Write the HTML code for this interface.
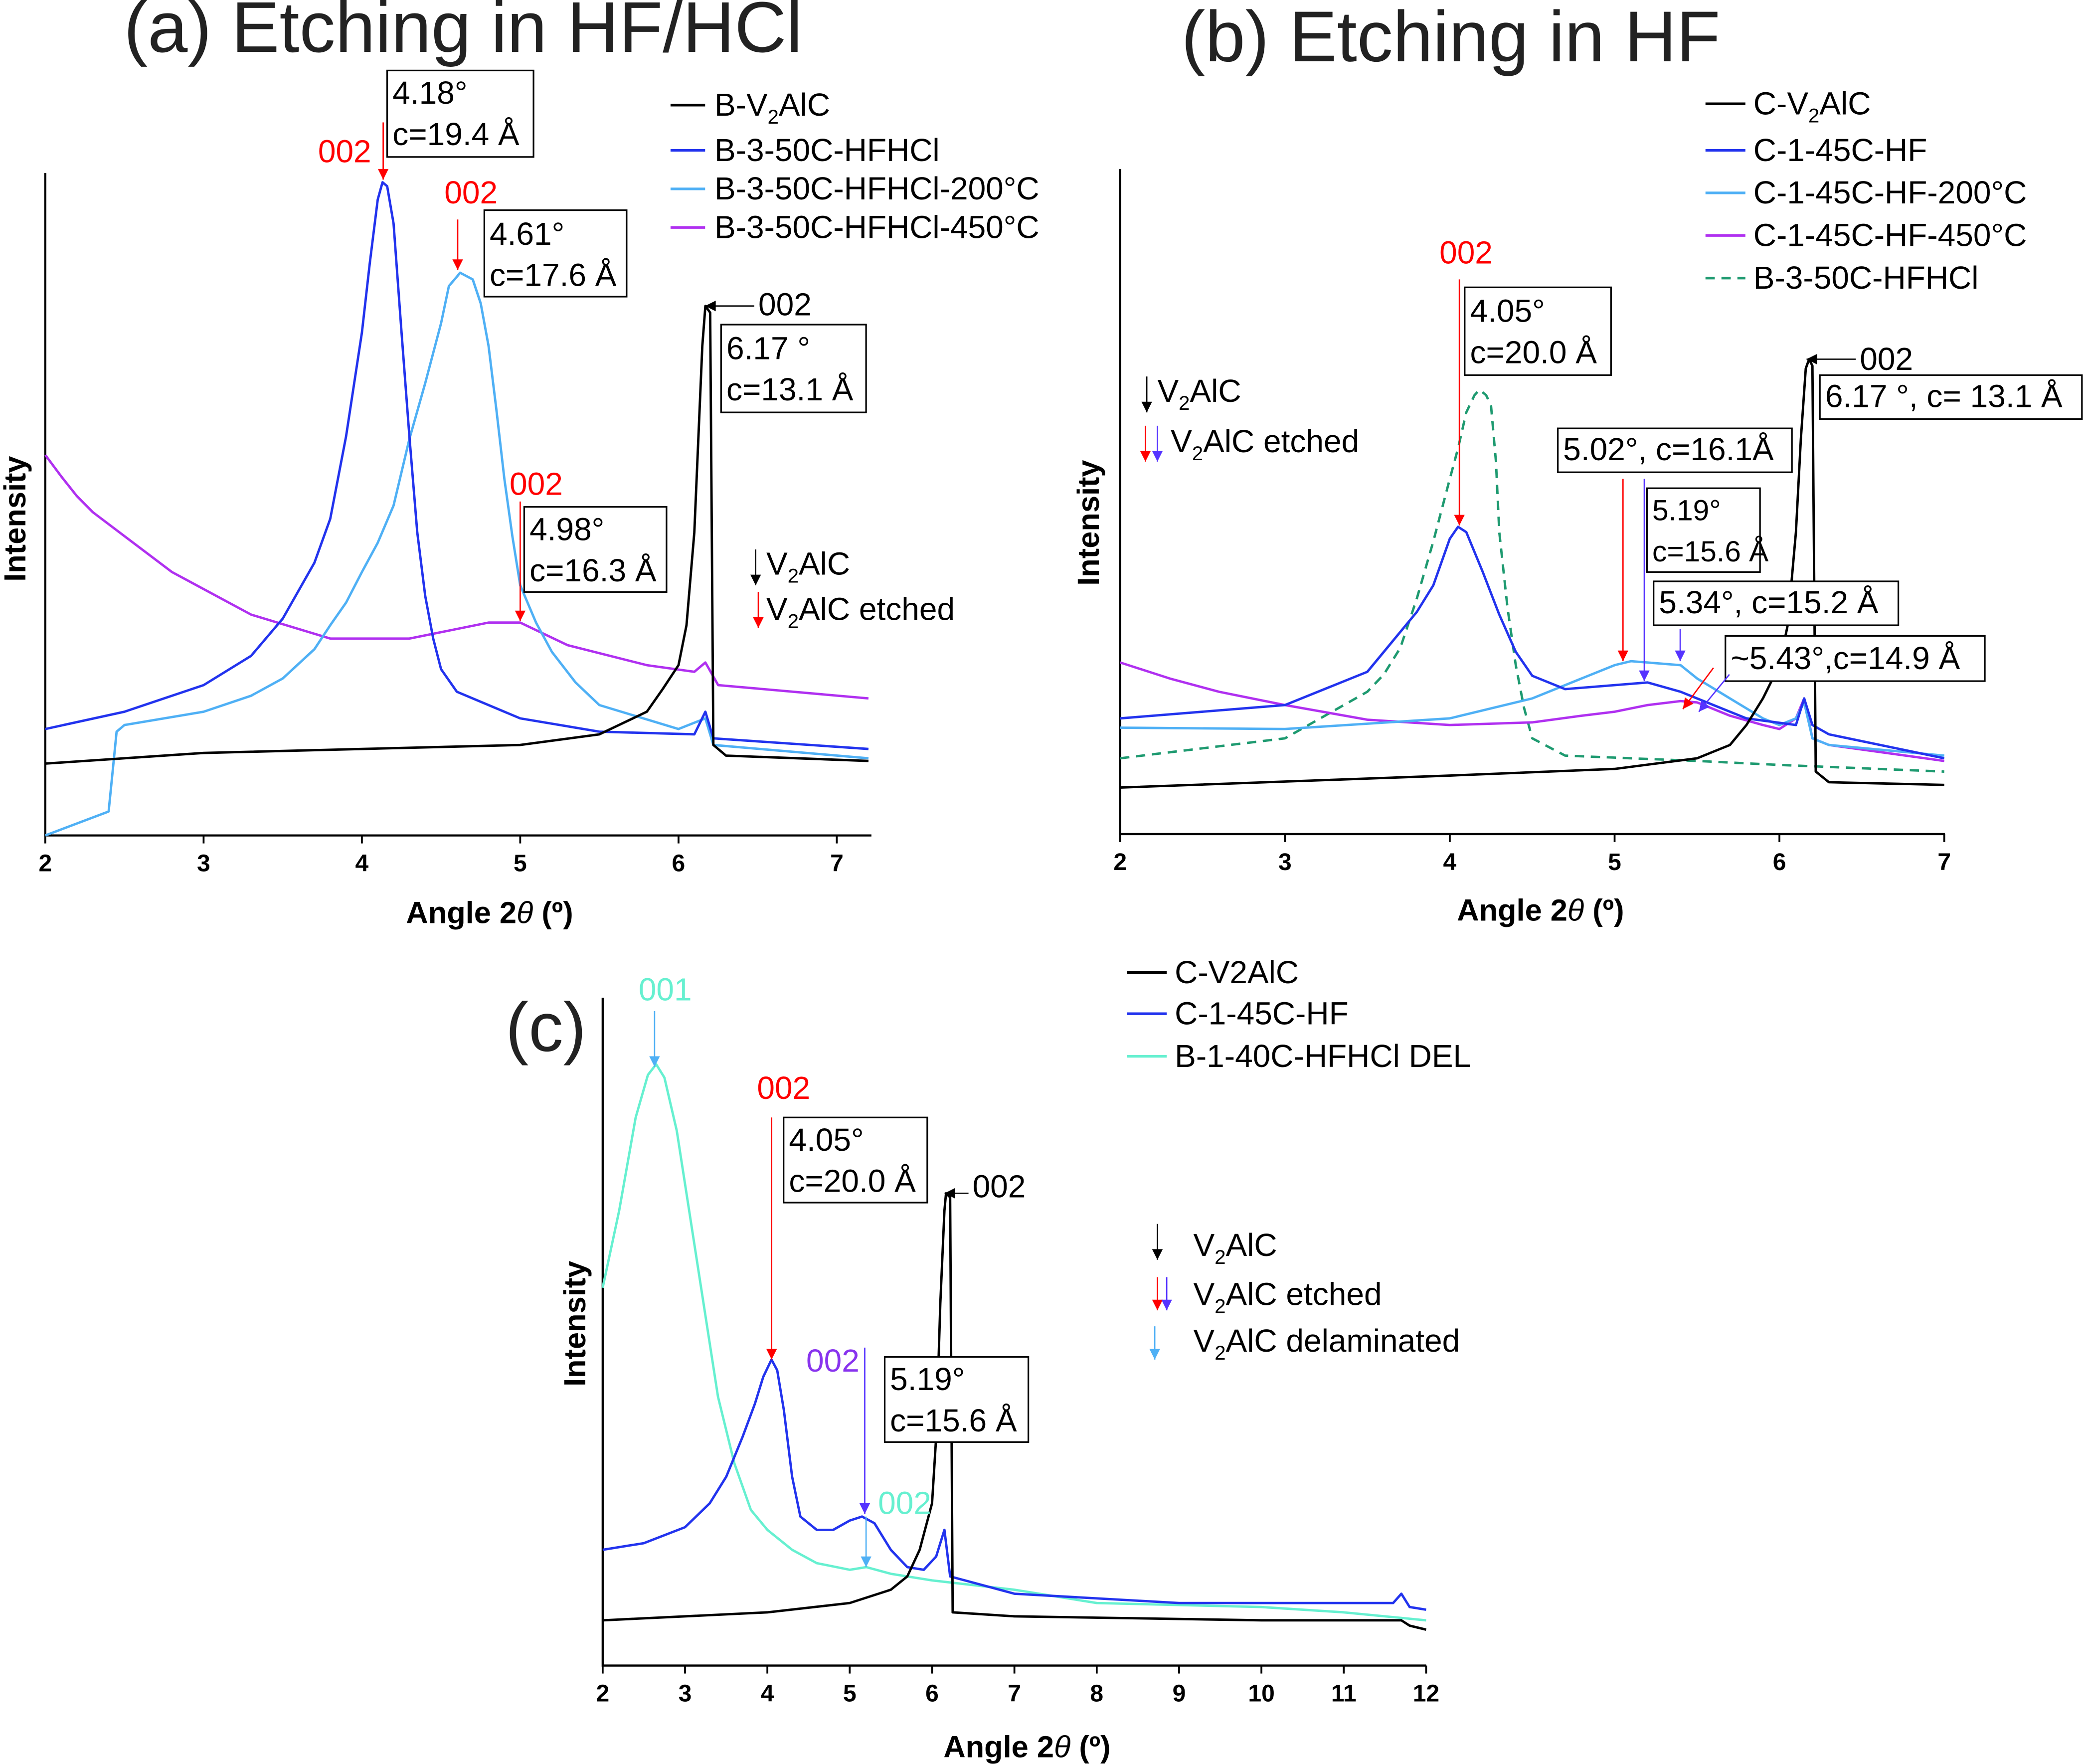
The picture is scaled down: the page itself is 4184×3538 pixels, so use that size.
<!DOCTYPE html>
<html><head><meta charset="utf-8"><style>
html,body{margin:0;padding:0;background:#fff}
svg{display:block;font-family:"Liberation Sans",Arial,sans-serif}
</style></head><body>
<svg id="fig" width="4184" height="3538" viewBox="0 0 1568 1326" xmlns="http://www.w3.org/2000/svg">
<defs>
<marker id="ar" viewBox="0 0 10 10" refX="10" refY="5" markerWidth="12" markerHeight="8" orient="auto" markerUnits="userSpaceOnUse"><path d="M0,0 L10,5 L0,10z" fill="context-stroke"/></marker>
</defs>
<g id="panels"></g>
<g id="annot" font-size="24">
<!-- Panel a -->
<text x="93" y="39" font-size="54" fill="#222">(a)  Etching in HF/HCl</text>
<text x="368" y="694" text-anchor="middle" font-weight="bold" font-size="23">Angle 2<tspan font-style="italic" font-weight="normal">θ</tspan> (º)</text>
<text transform="translate(19,390) rotate(-90)" text-anchor="middle" font-weight="bold" font-size="23">Intensity</text>
<g>
<line x1="504" y1="79" x2="530" y2="79" stroke="#000" stroke-width="2"/><text x="537" y="87">B-V<tspan font-size="15" dy="6">2</tspan><tspan dy="-6">AlC</tspan></text>
<line x1="504" y1="113" x2="530" y2="113" stroke="#2233ee" stroke-width="2"/><text x="537" y="121">B-3-50C-HFHCl</text>
<line x1="504" y1="142" x2="530" y2="142" stroke="#4fb0f5" stroke-width="2"/><text x="537" y="150">B-3-50C-HFHCl-200°C</text>
<line x1="504" y1="171" x2="530" y2="171" stroke="#b030f0" stroke-width="2"/><text x="537" y="179">B-3-50C-HFHCl-450°C</text>
</g>
<rect x="291" y="53" width="110" height="65" fill="#fff" stroke="#000" stroke-width="1.2"/><text x="295" y="78">4.18°</text><text x="295" y="109">c=19.4 Å</text>
<rect x="364" y="158" width="107" height="65" fill="#fff" stroke="#000" stroke-width="1.2"/><text x="368" y="184">4.61°</text><text x="368" y="215">c=17.6 Å</text>
<rect x="542" y="244" width="109" height="66" fill="#fff" stroke="#000" stroke-width="1.2"/><text x="546" y="270">6.17 °</text><text x="546" y="301">c=13.1 Å</text>
<rect x="394" y="381" width="107" height="64" fill="#fff" stroke="#000" stroke-width="1.2"/><text x="398" y="406">4.98°</text><text x="398" y="437">c=16.3 Å</text>
<text x="239" y="122" fill="#f00">002</text><line x1="288" y1="92" x2="288" y2="135" stroke="#f00" marker-end="url(#ar)"/>
<text x="334" y="153" fill="#f00">002</text><line x1="344" y1="165" x2="344" y2="203" stroke="#f00" marker-end="url(#ar)"/>
<text x="383" y="372" fill="#f00">002</text><line x1="391" y1="377" x2="391" y2="467" stroke="#f00" marker-end="url(#ar)"/>
<text x="570" y="237">002</text><line x1="567" y1="230" x2="530" y2="230" stroke="#000" marker-end="url(#ar)"/>
<line x1="568" y1="413" x2="568" y2="440" stroke="#000" marker-end="url(#ar)"/><text x="576" y="432">V<tspan font-size="15" dy="6">2</tspan><tspan dy="-6">AlC</tspan></text>
<line x1="570" y1="445" x2="570" y2="472" stroke="#f00" marker-end="url(#ar)"/><text x="576" y="466">V<tspan font-size="15" dy="6">2</tspan><tspan dy="-6">AlC etched</tspan></text>

<!-- Panel b -->
<text x="888" y="46" font-size="54" fill="#222">(b) Etching in HF</text>
<text x="1158" y="692" text-anchor="middle" font-weight="bold" font-size="23">Angle 2<tspan font-style="italic" font-weight="normal">θ</tspan> (º)</text>
<text transform="translate(826,393) rotate(-90)" text-anchor="middle" font-weight="bold" font-size="23">Intensity</text>
<g>
<line x1="1282" y1="78" x2="1312" y2="78" stroke="#000" stroke-width="2"/><text x="1318" y="86">C-V<tspan font-size="15" dy="6">2</tspan><tspan dy="-6">AlC</tspan></text>
<line x1="1282" y1="113" x2="1312" y2="113" stroke="#2233ee" stroke-width="2"/><text x="1318" y="121">C-1-45C-HF</text>
<line x1="1282" y1="145" x2="1312" y2="145" stroke="#4fb0f5" stroke-width="2"/><text x="1318" y="153">C-1-45C-HF-200°C</text>
<line x1="1282" y1="177" x2="1312" y2="177" stroke="#b030f0" stroke-width="2"/><text x="1318" y="185">C-1-45C-HF-450°C</text>
<line x1="1282" y1="209" x2="1312" y2="209" stroke="#1e9a70" stroke-width="2" stroke-dasharray="7,5"/><text x="1318" y="217">B-3-50C-HFHCl</text>
</g>
<text x="1082" y="198" fill="#f00">002</text><line x1="1097" y1="210" x2="1097" y2="395" stroke="#f00" marker-end="url(#ar)"/>
<rect x="1101" y="216" width="110" height="66" fill="#fff" stroke="#000" stroke-width="1.2"/><text x="1105" y="242">4.05°</text><text x="1105" y="273">c=20.0 Å</text>
<text x="1398" y="278">002</text><line x1="1395" y1="270" x2="1358" y2="270" stroke="#000" marker-end="url(#ar)"/>
<rect x="1368" y="282" width="197" height="33" fill="#fff" stroke="#000" stroke-width="1.2"/><text x="1372" y="306">6.17 °, c= 13.1 Å</text>
<rect x="1171" y="322" width="176" height="33" fill="#fff" stroke="#000" stroke-width="1.2"/><text x="1175" y="346">5.02°, c=16.1Å</text>
<line x1="1220" y1="360" x2="1220" y2="497" stroke="#f00" marker-end="url(#ar)"/>
<line x1="1236" y1="360" x2="1236" y2="512" stroke="#5533ff" marker-end="url(#ar)"/>
<rect x="1238" y="367" width="85" height="63" fill="#fff" stroke="#000" stroke-width="1.2"/><text x="1242" y="391" font-size="22">5.19°</text><text x="1242" y="422" font-size="22">c=15.6 Å</text>
<line x1="1263" y1="473" x2="1263" y2="497" stroke="#5533ff" marker-end="url(#ar)"/>
<rect x="1243" y="437" width="184" height="33" fill="#fff" stroke="#000" stroke-width="1.2"/><text x="1247" y="461">5.34°, c=15.2 Å</text>
<rect x="1297" y="478" width="195" height="34" fill="#fff" stroke="#000" stroke-width="1.2"/><text x="1301" y="503">~5.43°,c=14.9 Å</text>
<line x1="1288" y1="502" x2="1265" y2="533" stroke="#f00" marker-end="url(#ar)"/>
<line x1="1300" y1="507" x2="1277" y2="535" stroke="#5533ff" marker-end="url(#ar)"/>
<line x1="862" y1="283" x2="862" y2="310" stroke="#000" marker-end="url(#ar)"/><text x="870" y="302">V<tspan font-size="15" dy="6">2</tspan><tspan dy="-6">AlC</tspan></text>
<line x1="861" y1="320" x2="861" y2="347" stroke="#f00" marker-end="url(#ar)"/><line x1="870" y1="320" x2="870" y2="347" stroke="#5533ff" marker-end="url(#ar)"/><text x="880" y="340">V<tspan font-size="15" dy="6">2</tspan><tspan dy="-6">AlC etched</tspan></text>

<!-- Panel c -->
<text x="380" y="790" font-size="52" fill="#222">(c)</text>
<text x="772" y="1321" text-anchor="middle" font-weight="bold" font-size="23">Angle 2<tspan font-style="italic" font-weight="normal">θ</tspan> (º)</text>
<text transform="translate(440,995) rotate(-90)" text-anchor="middle" font-weight="bold" font-size="23">Intensity</text>
<g>
<line x1="847" y1="731" x2="877" y2="731" stroke="#000" stroke-width="2"/><text x="883" y="739">C-V2AlC</text>
<line x1="847" y1="762" x2="877" y2="762" stroke="#2233ee" stroke-width="2"/><text x="883" y="770">C-1-45C-HF</text>
<line x1="847" y1="794" x2="877" y2="794" stroke="#66f0d0" stroke-width="2"/><text x="883" y="802">B-1-40C-HFHCl DEL</text>
</g>
<text x="500" y="752" fill="#66f0d0" text-anchor="middle">001</text><line x1="492" y1="760" x2="492" y2="802" stroke="#4fb0f5" marker-end="url(#ar)"/>
<text x="569" y="826" fill="#f00">002</text><line x1="580" y1="840" x2="580" y2="1022" stroke="#f00" marker-end="url(#ar)"/>
<rect x="589" y="840" width="108" height="64" fill="#fff" stroke="#000" stroke-width="1.2"/><text x="593" y="865">4.05°</text><text x="593" y="896">c=20.0 Å</text>
<text x="731" y="900">002</text><line x1="728" y1="897" x2="710" y2="897" stroke="#000" marker-end="url(#ar)"/>
<text x="606" y="1031" fill="#8833ee">002</text><line x1="650" y1="1013" x2="650" y2="1138" stroke="#5533ff" marker-end="url(#ar)"/>
<rect x="665" y="1020" width="108" height="64" fill="#fff" stroke="#000" stroke-width="1.2"/><text x="669" y="1045">5.19°</text><text x="669" y="1076">c=15.6 Å</text>
<text x="660" y="1138" fill="#66f0d0">002</text><line x1="651" y1="1140" x2="651" y2="1178" stroke="#4fb0f5" marker-end="url(#ar)"/>
<line x1="870" y1="920" x2="870" y2="947" stroke="#000" marker-end="url(#ar)"/><text x="897" y="944">V<tspan font-size="15" dy="6">2</tspan><tspan dy="-6">AlC</tspan></text>
<line x1="870" y1="960" x2="870" y2="985" stroke="#f00" marker-end="url(#ar)"/><line x1="877" y1="960" x2="877" y2="985" stroke="#5533ff" marker-end="url(#ar)"/><text x="897" y="981">V<tspan font-size="15" dy="6">2</tspan><tspan dy="-6">AlC etched</tspan></text>
<line x1="868" y1="997" x2="868" y2="1022" stroke="#4fb0f5" marker-end="url(#ar)"/><text x="897" y="1016">V<tspan font-size="15" dy="6">2</tspan><tspan dy="-6">AlC delaminated</tspan></text>
</g>
</svg>
<script>
// Panel a data (intensity, arbitrary units)
const aX_black=[2,3,4,5,5.5,5.8,5.9,6.0,6.05,6.1,6.15,6.17,6.2,6.22,6.3,7.2];
const aY_black=[54,62,65,68,76,93,110,128,158,228,368,398,393,68,60,56];
const aX_blue=[2,2.5,3,3.3,3.5,3.7,3.8,3.9,4.0,4.05,4.1,4.13,4.16,4.2,4.25,4.3,4.35,4.4,4.45,4.5,4.6,5,5.5,6.1,6.17,6.22,7.2];
const aY_blue=[80,93,113,135,163,205,238,300,378,430,478,491,488,460,378,300,228,180,148,125,108,88,78,76,93,73,65];
const aX_lb=[2,2.4,2.45,2.5,3,3.3,3.5,3.7,3.8,3.9,4.0,4.1,4.2,4.3,4.4,4.5,4.55,4.6,4.62,4.7,4.75,4.8,4.85,4.9,4.95,5.0,5.1,5.2,5.35,5.5,6.0,6.17,6.22,7.2];
const aY_lb=[0,18,78,83,93,105,118,140,158,175,198,220,248,298,340,385,413,420,423,418,400,368,320,268,225,188,160,138,115,98,80,88,68,58];
const aX_pu=[2,2.1,2.2,2.3,2.8,3.3,3.8,4.3,4.8,5.0,5.3,5.8,6.1,6.17,6.25,7.2];
const aY_pu=[286,270,255,243,198,166,148,148,160,160,143,128,123,130,113,103];
// Panel b data
const bX_black=[2,4,5,5.5,5.7,5.8,5.9,6.0,6.05,6.1,6.13,6.16,6.18,6.2,6.22,6.3,7];
const bY_black=[35,44,49,57,67,82,102,127,157,227,297,350,357,352,47,39,37];
const bX_blue=[2,3,3.5,3.8,3.9,4.0,4.05,4.1,4.2,4.3,4.4,4.5,4.7,5.0,5.2,5.4,5.6,5.8,6.1,6.15,6.2,6.3,7];
const bY_blue=[87,97,122,167,187,222,231,227,197,165,137,119,109,112,114,107,97,87,82,102,82,75,57];
const bX_lb=[2,3,4,4.5,4.8,5.0,5.1,5.4,5.5,5.7,5.9,6.0,6.1,6.15,6.2,6.3,7];
const bY_lb=[80,79,87,102,117,127,130,127,117,102,87,82,87,99,72,67,59];
const bX_pu=[2,2.3,2.6,3,3.5,4,4.5,4.8,5.0,5.2,5.4,5.5,5.7,5.9,6.0,6.1,6.15,6.2,6.3,7];
const bY_pu=[129,117,107,97,86,82,84,89,92,97,100,99,89,82,79,87,102,72,67,55];
const bX_gr=[2,3,3.5,3.6,3.7,3.8,3.9,4.0,4.05,4.1,4.15,4.18,4.22,4.25,4.28,4.3,4.35,4.4,4.45,4.5,4.7,5.5,6,7];
const bY_gr=[57,72,107,120,140,177,220,267,290,317,330,334,330,322,280,227,170,127,95,72,59,55,52,47];
// Panel c data
const cX_black=[2,4,5,5.5,5.7,5.85,6.0,6.05,6.1,6.15,6.17,6.22,6.25,7,10,11.7,11.8,12];
const cY_black=[34,40,47,57,67,87,122,172,272,342,355,352,40,37,34,34,30,27];
const cX_blue=[2,2.5,3,3.3,3.5,3.7,3.85,3.95,4.05,4.12,4.2,4.3,4.4,4.6,4.8,5.0,5.15,5.3,5.5,5.7,5.9,6.05,6.15,6.22,7,9,11.6,11.7,11.8,12];
const cY_blue=[87,92,104,122,142,172,197,217,230,222,192,142,112,102,102,109,112,107,87,74,72,82,102,67,54,47,47,54,44,42];
const cX_cy=[2,2.2,2.4,2.55,2.65,2.75,2.9,3.0,3.2,3.4,3.6,3.8,4.0,4.3,4.6,5.0,5.2,5.5,6,7,8,10,11,12];
const cY_cy=[284,342,412,444,452,442,402,362,282,202,152,117,102,87,77,72,74,69,64,57,47,44,40,34];

const xTicksA=[2,3,4,5,6,7], xTicksB=[2,3,4,5,6,7], xTicksC=[2,3,4,5,6,7,8,9,10,11,12];
const NS="http://www.w3.org/2000/svg";
const root=document.getElementById('panels');
function mk(tag,attrs,parent){const e=document.createElementNS(NS,tag);for(const k in attrs)e.setAttribute(k,attrs[k]);parent.appendChild(e);return e;}
function panel(name,cfg,ticks,series){
  const g=mk('g',{},root);
  
  
  const sx=v=>cfg.x0+(v-cfg.xmin)*cfg.ppu;
  const sy=v=>cfg.bottom-v;
  const ax=mk('path',{d:`M${cfg.x0},${cfg.top} V${cfg.bottom} H${cfg.xend}`,fill:'none',stroke:'#000','stroke-width':1.6},g);
  
  
  ticks.forEach(t=>{
    const tl=mk('line',{x1:sx(t),x2:sx(t),y1:cfg.bottom,y2:cfg.bottom+6,stroke:'#000','stroke-width':1.4},g);
    
    
    const tx=mk('text',{x:sx(t),y:cfg.bottom+27,'text-anchor':'middle','font-weight':'bold','font-size':18},g);
    tx.textContent=t;
    
    
  });
  series.forEach(s=>{
    const d=s.x.map((v,i)=>(i?'L':'M')+sx(v).toFixed(1)+','+sy(s.y[i]).toFixed(1)).join(' ');
    const p=mk('path',{d:d,fill:'none',stroke:s.c,'stroke-width':1.8,'stroke-linejoin':'round'},g);
    if(s.dash)p.setAttribute('stroke-dasharray','7,5');
    
    
  });
}
panel('panel-a',{x0:34,xmin:2,ppu:119,xend:655,top:130,bottom:628},xTicksA,[
 {x:aX_pu,y:aY_pu,c:'#b030f0'},{x:aX_lb,y:aY_lb,c:'#4fb0f5'},{x:aX_blue,y:aY_blue,c:'#2233ee'},{x:aX_black,y:aY_black,c:'#000'}]);
panel('panel-b',{x0:842,xmin:2,ppu:123.9,xend:1462,top:127,bottom:627},xTicksB,[
 {x:bX_gr,y:bY_gr,c:'#1e9a70',dash:1},{x:bX_pu,y:bY_pu,c:'#b030f0'},{x:bX_lb,y:bY_lb,c:'#4fb0f5'},{x:bX_blue,y:bY_blue,c:'#2233ee'},{x:bX_black,y:bY_black,c:'#000'}]);
panel('panel-c',{x0:453,xmin:2,ppu:61.9,xend:1072,top:750,bottom:1252},xTicksC,[
 {x:cX_cy,y:cY_cy,c:'#66f0d0'},{x:cX_blue,y:cY_blue,c:'#2233ee'},{x:cX_black,y:cY_black,c:'#000'}]);
</script>
</body></html>
